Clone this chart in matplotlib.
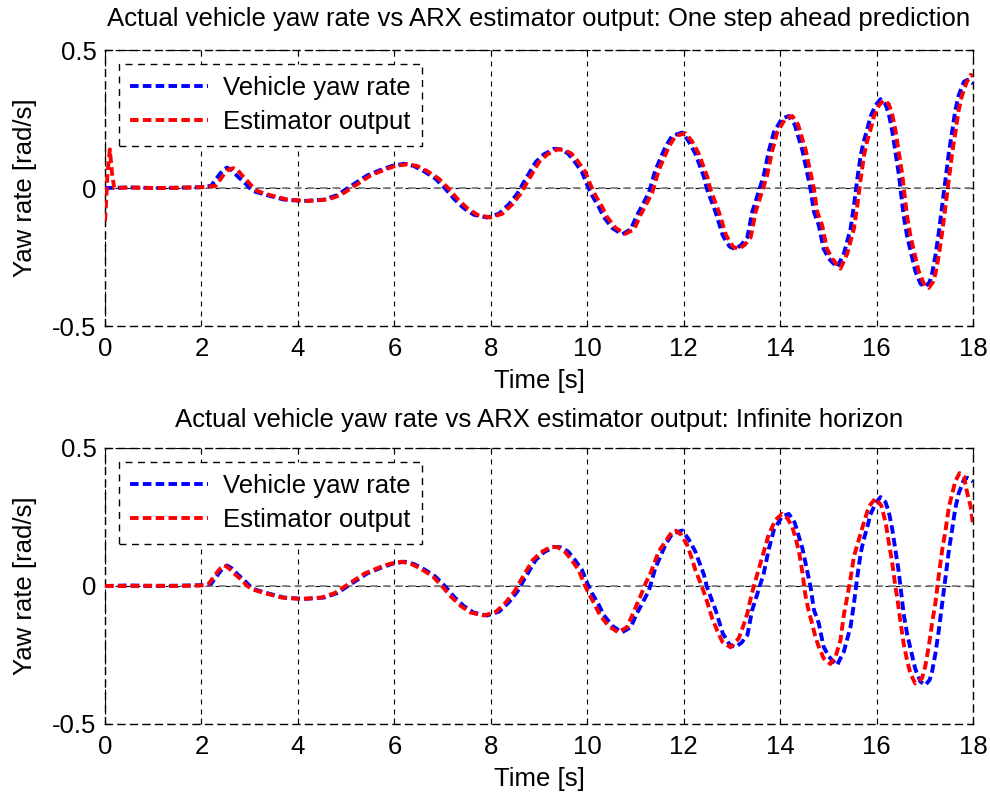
import matplotlib
matplotlib.use("Agg")
import matplotlib.pyplot as plt

plt.rcParams['font.family'] = ['Liberation Sans', 'DejaVu Sans']

# ---------------- data ----------------
yaw_t = [0.0, 0.5, 1.0, 1.5, 2.0, 2.2, 2.36, 2.45, 2.53, 2.62, 2.75, 2.88, 3.0, 3.09,
         3.36, 3.71, 4.12, 4.54, 4.81, 5.02, 5.23, 5.44, 5.75, 5.95, 6.2, 6.4, 6.61,
         6.85, 7.06, 7.23, 7.44, 7.65, 7.92, 8.17, 8.37, 8.55, 8.68, 8.93, 9.10, 9.31,
         9.45, 9.60, 9.72, 9.89, 10.0, 10.10, 10.24, 10.34, 10.52, 10.72, 10.90, 11.03,
         11.15, 11.28, 11.41, 11.62, 11.76, 11.97, 12.10, 12.24, 12.42, 12.48, 12.66,
         12.81, 12.95, 13.07, 13.20, 13.32, 13.42, 13.56, 13.66, 13.76, 13.87, 14.04,
         14.18, 14.30, 14.46, 14.52, 14.63, 14.70, 14.80, 14.90, 15.01, 15.18, 15.32,
         15.46, 15.53, 15.60, 15.67, 15.73, 15.80, 15.87, 15.98, 16.08, 16.18, 16.25,
         16.32, 16.39, 16.46, 16.52, 16.56, 16.63, 16.70, 16.80, 16.91, 17.01, 17.10,
         17.15, 17.22, 17.29, 17.36, 17.43, 17.50, 17.57, 17.63, 17.70, 17.81, 17.88,
         17.95, 18.0]
yaw_v = [0.0, 0.002, 0.0, 0.001, 0.003, 0.008, 0.046, 0.066, 0.074, 0.065, 0.042, 0.022,
         0.0, -0.012, -0.026, -0.042, -0.047, -0.042, -0.026, -0.002, 0.022, 0.046, 0.068,
         0.080, 0.088, 0.080, 0.061, 0.034, -0.003, -0.038, -0.073, -0.097, -0.107, -0.093,
         -0.06, -0.02, 0.02, 0.094, 0.122, 0.142, 0.140, 0.125, 0.10, 0.058, 0.01, -0.027,
         -0.069, -0.105, -0.145, -0.168, -0.150, -0.099, -0.06, -0.015, 0.064, 0.149,
         0.189, 0.201, 0.17, 0.125, 0.04, -0.003, -0.087, -0.172, -0.212, -0.222, -0.205,
         -0.178, -0.087, -0.01, 0.046, 0.131, 0.203, 0.252, 0.261, 0.23, 0.137, 0.088,
         -0.003, -0.087, -0.135, -0.22, -0.256, -0.287, -0.238, -0.147, -0.063, 0.034,
         0.119, 0.167, 0.209, 0.258, 0.30, 0.322, 0.305, 0.27, 0.21, 0.13, 0.05, -0.04,
         -0.10, -0.172, -0.225, -0.30, -0.347, -0.359, -0.34, -0.31, -0.244, -0.16, -0.063,
         0.034, 0.131, 0.209, 0.28, 0.335, 0.385, 0.392, 0.385, 0.378]

# one step ahead prediction (top panel)
osa_t = [0.0, 0.05, 0.10, 0.14, 0.19, 0.5, 1.0, 1.5, 2.0, 2.3, 2.45, 2.55, 2.66, 2.75,
         2.86, 2.97, 3.08, 3.17, 3.43, 3.78, 4.19, 4.61, 4.88, 5.09, 5.30, 5.51, 5.82,
         6.02, 6.27, 6.47, 6.68, 6.92, 7.13, 7.30, 7.51, 7.72, 7.99, 8.24, 8.44, 8.62,
         8.75, 9.00, 9.17, 9.38, 9.52, 9.67, 9.79, 9.96, 10.07, 10.17, 10.31, 10.41,
         10.59, 10.79, 10.97, 11.10, 11.22, 11.35, 11.48, 11.69, 11.83, 12.04, 12.17,
         12.31, 12.49, 12.55, 12.73, 12.88, 13.02, 13.14, 13.27, 13.39, 13.49, 13.63,
         13.73, 13.83, 13.94, 14.11, 14.25, 14.37, 14.53, 14.59, 14.70, 14.77, 14.87,
         14.97, 15.08, 15.25, 15.39, 15.53, 15.60, 15.67, 15.74, 15.80, 15.87, 15.94,
         16.05, 16.15, 16.25, 16.32, 16.39, 16.46, 16.53, 16.59, 16.63, 16.70, 16.77,
         16.87, 16.98, 17.08, 17.17, 17.22, 17.29, 17.36, 17.43, 17.50, 17.57, 17.64,
         17.70, 17.77, 17.86, 17.95, 18.0]
osa_v = [-0.12, 0.05, 0.14, 0.06, 0.0, 0.002, 0.0, 0.001, 0.003, 0.008, 0.046, 0.066,
         0.072, 0.065, 0.042, 0.022, 0.0, -0.012, -0.026, -0.042, -0.047, -0.042, -0.026,
         -0.002, 0.022, 0.046, 0.068, 0.080, 0.086, 0.080, 0.061, 0.034, -0.003, -0.038,
         -0.073, -0.097, -0.107, -0.093, -0.06, -0.02, 0.02, 0.094, 0.122, 0.140, 0.138,
         0.125, 0.10, 0.058, 0.01, -0.027, -0.069, -0.105, -0.145, -0.166, -0.150, -0.099,
         -0.06, -0.015, 0.064, 0.149, 0.189, 0.198, 0.17, 0.125, 0.04, -0.003, -0.087,
         -0.172, -0.212, -0.222, -0.205, -0.178, -0.087, -0.01, 0.046, 0.131, 0.203,
         0.252, 0.261, 0.23, 0.137, 0.088, -0.003, -0.087, -0.135, -0.22, -0.256, -0.292,
         -0.238, -0.147, -0.063, 0.034, 0.119, 0.167, 0.209, 0.258, 0.30, 0.318, 0.305,
         0.27, 0.21, 0.13, 0.05, -0.04, -0.10, -0.172, -0.225, -0.30, -0.347, -0.362,
         -0.34, -0.31, -0.244, -0.16, -0.063, 0.034, 0.131, 0.209, 0.28, 0.335, 0.38,
         0.41, 0.405]

# infinite horizon simulation (bottom panel)
inf_t = [0.0, 0.5, 1.0, 1.5, 2.0, 2.15, 2.31, 2.40, 2.47, 2.56, 2.70, 2.83, 2.95, 3.05,
         3.31, 3.66, 4.07, 4.49, 4.76, 4.97, 5.18, 5.39, 5.70, 5.90, 6.15, 6.35, 6.56,
         6.80, 7.00, 7.17, 7.38, 7.59, 7.86, 8.11, 8.31, 8.49, 8.62, 8.87, 9.04, 9.25,
         9.39, 9.53, 9.65, 9.82, 9.93, 10.03, 10.16, 10.26, 10.44, 10.64, 10.82, 10.95,
         11.10, 11.21, 11.31, 11.48, 11.62, 11.76, 11.84, 11.95, 12.07, 12.18, 12.24,
         12.35, 12.45, 12.59, 12.69, 12.80, 12.97, 13.14, 13.24, 13.32, 13.38, 13.45,
         13.56, 13.66, 13.76, 13.90, 14.04, 14.15, 14.25, 14.32, 14.39, 14.46, 14.52,
         14.59, 14.66, 14.73, 14.80, 14.90, 15.04, 15.15, 15.25, 15.32, 15.39, 15.46,
         15.53, 15.63, 15.70, 15.84, 15.98, 16.10, 16.19, 16.25, 16.32, 16.39, 16.43,
         16.49, 16.56, 16.63, 16.70, 16.80, 16.94, 17.01, 17.08, 17.15, 17.22, 17.29,
         17.36, 17.43, 17.50, 17.57, 17.63, 17.72, 17.81, 17.88, 17.95, 18.0]
inf_v = [0.0, 0.0, 0.001, 0.0, 0.002, 0.008, 0.046, 0.066, 0.075, 0.066, 0.042, 0.022,
         0.0, -0.012, -0.026, -0.042, -0.047, -0.042, -0.026, -0.002, 0.022, 0.046, 0.068,
         0.080, 0.088, 0.080, 0.061, 0.034, -0.003, -0.038, -0.073, -0.097, -0.107, -0.093,
         -0.06, -0.02, 0.02, 0.094, 0.122, 0.142, 0.140, 0.125, 0.10, 0.058, 0.01, -0.027,
         -0.069, -0.105, -0.145, -0.168, -0.150, -0.099, -0.038, 0.01, 0.046, 0.125,
         0.161, 0.197, 0.200, 0.185, 0.149, 0.094, 0.058, 0.01, -0.038, -0.117, -0.16,
         -0.202, -0.222, -0.19, -0.142, -0.099, -0.051, -0.003, 0.064, 0.125, 0.185,
         0.239, 0.261, 0.245, 0.215, 0.173, 0.125, 0.05, -0.03, -0.09, -0.135, -0.184,
         -0.22, -0.262, -0.283, -0.255, -0.196, -0.105, -0.04, 0.028, 0.107, 0.167, 0.209,
         0.288, 0.318, 0.29, 0.227, 0.16, 0.088, -0.003, -0.045, -0.125, -0.208, -0.268,
         -0.317, -0.353, -0.335, -0.29, -0.22, -0.135, -0.06, 0.04, 0.131, 0.203, 0.288,
         0.336, 0.379, 0.409, 0.397, 0.336, 0.288, 0.22]

titles = ["Actual vehicle yaw rate vs ARX estimator output: One step ahead prediction",
          "Actual vehicle yaw rate vs ARX estimator output: Infinite horizon"]
legend_labels = ["Vehicle yaw rate", "Estimator output"]
x_ticks = [0, 2, 4, 6, 8, 10, 12, 14, 16, 18]
y_ticks = [-0.5, 0, 0.5]
y_ticklabels = ["-0.5", "0", "0.5"]
xlabel = "Time [s]"
ylabel = "Yaw rate [rad/s]"

# ---------------- figure ----------------
fig = plt.figure(figsize=(9.9, 7.94), dpi=100)
positions = [[0.1061, 0.5894, 0.8768, 0.3476], [0.1061, 0.0882, 0.8768, 0.3476]]
estimates = [(osa_t, osa_v), (inf_t, inf_v)]
title_pads = [17, 15]
FS = 18.5

for pos, title, (et, ev), tp in zip(positions, titles, estimates, title_pads):
    ax = fig.add_axes(pos)
    dash = (2.2, 1.1)
    ax.axhline(0, color='#808080', lw=1.3, linestyle=(0, (4, 3)), zorder=2)
    l1, = ax.plot(yaw_t, yaw_v, color='#0000ff', lw=2.8, linestyle=(0, dash),
                  label=legend_labels[0], zorder=3)
    l2, = ax.plot(et, ev, color='#ff0000', lw=2.8, linestyle=(0, dash),
                  label=legend_labels[1], zorder=4)
    ax.set_xlim(0, 18)
    ax.set_ylim(-0.5, 0.5)
    ax.set_xticks(x_ticks)
    ax.set_yticks(y_ticks)
    ax.set_yticklabels(y_ticklabels)
    ax.tick_params(direction='in', length=4, width=0.8, top=True, right=True,
                   labelsize=FS)
    ax.tick_params(axis='x', pad=8)
    ax.tick_params(axis='y', pad=6)
    ax.grid(True, color='black', linestyle=(0, (4.5, 4.5)), linewidth=0.8)
    for s in ax.spines.values():
        s.set_linestyle((0, (5, 4)))
        s.set_linewidth(1.0)
    ax.set_title(title, fontsize=FS, pad=tp)
    ax.set_xlabel(xlabel, fontsize=FS, labelpad=6)
    ax.set_ylabel(ylabel, fontsize=FS, labelpad=11)
    leg = ax.legend(handles=[l1, l2], loc='upper left', bbox_to_anchor=(0.016, 0.949),
                    fontsize=FS, frameon=True, fancybox=False, handlelength=3.0,
                    handletextpad=0.6, borderpad=0.45, labelspacing=0.42,
                    borderaxespad=0.0)
    fr = leg.get_frame()
    fr.set_edgecolor('black')
    fr.set_linestyle((0, (5, 4)))
    fr.set_linewidth(1.0)
    fr.set_alpha(1)

fig.savefig("out.png", dpi=100, facecolor='white')
